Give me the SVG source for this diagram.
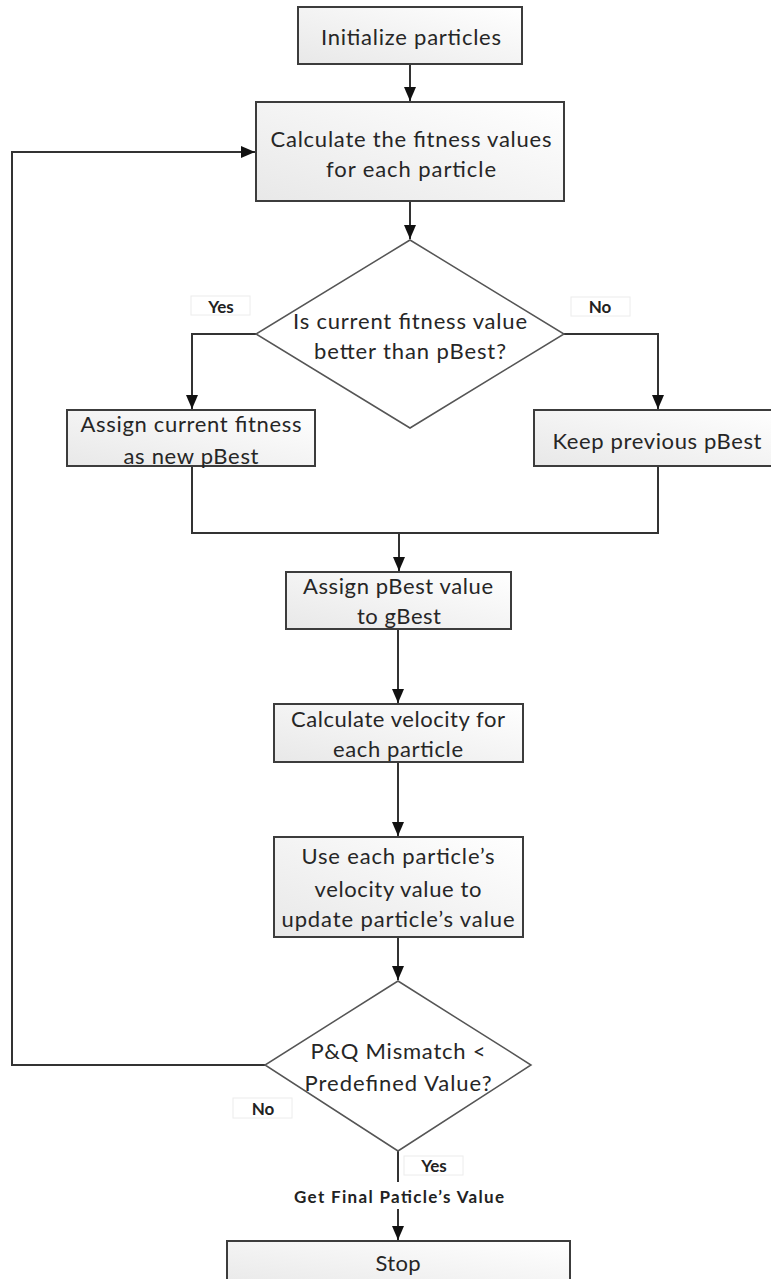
<svg xmlns="http://www.w3.org/2000/svg" width="771" height="1279" viewBox="0 0 771 1279">
<style>
.box{stroke:#3c3c3c;stroke-width:2;fill:url(#g)}
.dia{stroke:#555;stroke-width:1.5;fill:#fff}
.t{font-family:Lato,"Open Sans","Liberation Sans",sans-serif;font-size:22px;fill:#262626;text-anchor:middle;dominant-baseline:central}
.lb{font-family:Lato,"Open Sans","Liberation Sans",sans-serif;font-size:17px;font-weight:bold;fill:#222;text-anchor:middle;dominant-baseline:central}
.lbox{fill:#fff;stroke:#ececec;stroke-width:1}
.c{fill:none;stroke:#333;stroke-width:2}
</style>
<defs>
<linearGradient id="g" x1="0" y1="1" x2="1" y2="0">
<stop offset="0" stop-color="#e8e8e8"/>
<stop offset="1" stop-color="#ffffff"/>
</linearGradient>
<marker id="a" viewBox="0 0 14 12" refX="14" refY="6" markerWidth="14" markerHeight="12" markerUnits="userSpaceOnUse" orient="auto">
<path d="M0,0 L14,6 L0,12 Z" fill="#111"/>
</marker>
</defs>
<rect width="771" height="1279" fill="#fff"/>
<g id="connectors">
<path class="c" d="M410,64 V101" marker-end="url(#a)"/>
<path class="c" d="M410,201 V239" marker-end="url(#a)"/>
<path class="c" d="M256,334 H192 V409" marker-end="url(#a)"/>
<path class="c" d="M564,334 H658 V409" marker-end="url(#a)"/>
<path class="c" d="M192,466 V533 H658 V466"/>
<path class="c" d="M399,533 V571" marker-end="url(#a)"/>
<path class="c" d="M398,629 V703" marker-end="url(#a)"/>
<path class="c" d="M398,762 V836" marker-end="url(#a)"/>
<path class="c" d="M398,937 V980" marker-end="url(#a)"/>
<path class="c" d="M265,1065 H12 V152 H255" marker-end="url(#a)"/>
<path class="c" d="M398,1151 V1182"/>
<path class="c" d="M398,1209 V1240" marker-end="url(#a)"/>
</g>
<g id="init">
<rect class="box" x="298" y="7" width="224" height="57"/>
<text class="t" x="411" y="36" textLength="180">Initialize particles</text>
</g>
<g id="fitness">
<rect class="box" x="256" y="102" width="308" height="99"/>
<text class="t" x="411" y="138" textLength="281">Calculate the fitness values</text>
<text class="t" x="411" y="168" textLength="170">for each particle</text>
</g>
<g id="decision1">
<path class="dia" d="M410,240 L564,334 L410,428 L256,334 Z"/>
<text class="t" x="410" y="320" textLength="234">Is current fitness value</text>
<text class="t" x="410" y="350" textLength="192">better than pBest?</text>
</g>
<g id="label-yes1">
<rect class="lbox" x="191" y="296" width="59" height="19"/>
<text class="lb" x="221" y="306">Yes</text>
</g>
<g id="label-no1">
<rect class="lbox" x="571" y="297" width="59" height="19"/>
<text class="lb" x="600" y="306">No</text>
</g>
<g id="assign-current">
<rect class="box" x="67" y="410" width="248" height="56"/>
<text class="t" x="191" y="423" textLength="221">Assign current fitness</text>
<text class="t" x="191" y="455" textLength="135">as new pBest</text>
</g>
<g id="keep-previous">
<rect class="box" x="534" y="410" width="248" height="56"/>
<text class="t" x="657" y="440" textLength="209">Keep previous pBest</text>
</g>
<g id="assign-gbest">
<rect class="box" x="286" y="572" width="225" height="57"/>
<text class="t" x="398" y="585" textLength="190">Assign pBest value</text>
<text class="t" x="399" y="615" textLength="84">to gBest</text>
</g>
<g id="velocity">
<rect class="box" x="274" y="704" width="249" height="58"/>
<text class="t" x="398" y="718" textLength="214">Calculate velocity for</text>
<text class="t" x="398" y="748" textLength="130">each particle</text>
</g>
<g id="update">
<rect class="box" x="274" y="837" width="249" height="100"/>
<text class="t" x="398" y="855" textLength="193">Use each particle’s</text>
<text class="t" x="398" y="888" textLength="167">velocity value to</text>
<text class="t" x="398" y="918" textLength="233">update particle’s value</text>
</g>
<g id="decision2">
<path class="dia" d="M398,981 L531,1065 L398,1151 L265,1065 Z"/>
<text class="t" x="398" y="1050" textLength="175">P&amp;Q Mismatch &lt;</text>
<text class="t" x="398" y="1082" textLength="187">Predefined Value?</text>
</g>
<g id="label-no2">
<rect class="lbox" x="233" y="1098" width="59" height="20"/>
<text class="lb" x="263" y="1108">No</text>
</g>
<g id="label-yes2">
<rect class="lbox" x="404" y="1156" width="59" height="19"/>
<text class="lb" x="434" y="1165">Yes</text>
</g>
<g id="label-final">
<text class="lb" x="399" y="1196" textLength="210">Get Final Paticle’s Value</text>
</g>
<g id="stop">
<rect class="box" x="227" y="1241" width="343" height="48"/>
<text class="t" x="398" y="1262" textLength="45">Stop</text>
</g>
</svg>
